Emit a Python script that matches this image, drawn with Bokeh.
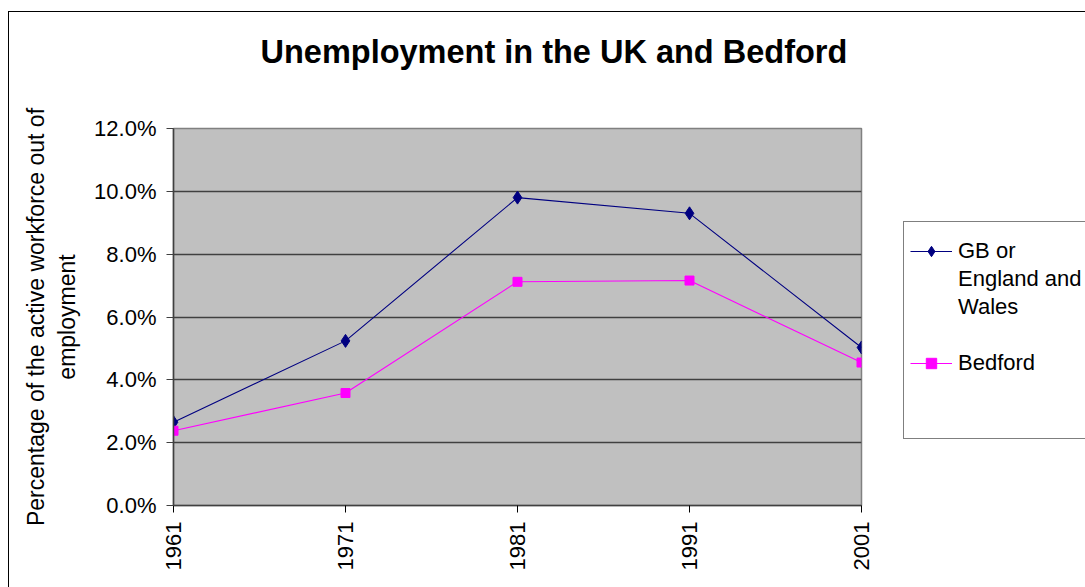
import math
from bokeh.plotting import figure
from bokeh.models import (Range1d, FixedTicker, NumeralTickFormatter, Legend, LegendItem, Title)
from bokeh.embed import file_html
from bokeh.resources import INLINE

years = [1961, 1971, 1981, 1991, 2001]
gb_rate = [0.0265, 0.0524, 0.0980, 0.0930, 0.0503]
bedford_rate = [0.0238, 0.0358, 0.0712, 0.0716, 0.0455]
y_ticks = [0.0, 0.02, 0.04, 0.06, 0.08, 0.10, 0.12]
title_text = "Unemployment in the UK and Bedford"
y_label = "Percentage of the active workforce out of\nemployment"
gb_name_lines = ["GB or", "England and", "Wales"]
bedford_name = "Bedford"

FONT = "Liberation Sans"

p = figure(width=1076, height=575, output_backend="svg", toolbar_location=None,
           title_location=None,
           x_range=Range1d(1961, 2001), y_range=Range1d(0, 0.12),
           frame_width=688, frame_height=377,
           min_border_left=164, min_border_top=116, min_border_right=224, min_border_bottom=82)
p.styles = {"border-left": "1px solid black", "border-top": "1px solid black",
            "position": "relative", "top": "11px", "left": "8px"}

p.background_fill_color = "#C0C0C0"
p.border_fill_color = "white"
p.outline_line_color = "#808080"
p.outline_line_width = 1.5

# spacer between frame and title, then the title itself
p.add_layout(Title(text=" ", text_font_size="1px", standoff=56), "above")
p.add_layout(Title(text=title_text, text_font=FONT, text_font_size="32.5px",
                   text_font_style="bold", text_color="black", align="left",
                   offset=87, standoff=0), "above")

p.xgrid.visible = False
p.ygrid.ticker = FixedTicker(ticks=y_ticks)
p.ygrid.grid_line_color = "#404040"
p.ygrid.grid_line_width = 1.5

p.xaxis.ticker = FixedTicker(ticks=years)
p.xaxis.major_label_orientation = math.pi / 2
p.xaxis.major_label_text_font = FONT
p.xaxis.major_label_text_font_size = "22px"
p.xaxis.major_label_text_color = "black"
p.xaxis.major_label_standoff = 9
p.xaxis.minor_tick_line_color = None
p.xaxis.major_tick_in = 0
p.xaxis.major_tick_out = 7
p.xaxis.major_tick_line_color = "black"
p.xaxis.axis_line_color = "#404040"
p.xaxis.axis_line_width = 1.5

p.yaxis.ticker = FixedTicker(ticks=y_ticks)
p.yaxis.formatter = NumeralTickFormatter(format="0.0%")
p.yaxis.major_label_text_font = FONT
p.yaxis.major_label_text_font_size = "22px"
p.yaxis.major_label_text_color = "black"
p.yaxis.major_label_standoff = 10
p.yaxis.minor_tick_line_color = None
p.yaxis.major_tick_in = 0
p.yaxis.major_tick_out = 7
p.yaxis.major_tick_line_color = "#404040"
p.yaxis.axis_line_color = "#404040"
p.yaxis.axis_line_width = 1.5
p.yaxis.axis_label = y_label
p.yaxis.axis_label_text_font = FONT
p.yaxis.axis_label_text_font_size = "23px"
p.yaxis.axis_label_text_font_style = "normal"
p.yaxis.axis_label_text_color = "black"
p.yaxis.axis_label_standoff = 11

gl = p.line(years, gb_rate, line_color="#000080", line_width=1.1)
gm = p.scatter(years, gb_rate, marker="diamond", size=13,
               fill_color="#000080", line_color="#000080")
bl = p.line(years, bedford_rate, line_color="#FF00FF", line_width=1.1)
bm = p.scatter(years, bedford_rate, marker="square", size=9,
               fill_color="#FF00FF", line_color="#FF00FF")
blank = p.line(x=[], y=[], line_alpha=0)

items = [LegendItem(label=gb_name_lines[0], renderers=[gl, gm]),
         LegendItem(label=gb_name_lines[1], renderers=[blank]),
         LegendItem(label=gb_name_lines[2], renderers=[blank]),
         LegendItem(label=" ", renderers=[blank]),
         LegendItem(label=bedford_name, renderers=[bl, bm]),
         LegendItem(label=" ", renderers=[blank]),
         LegendItem(label=" ", renderers=[blank])]

legend = Legend(items=items, location=(42, 66))
legend.title = " "
legend.title_text_font_size = "1px"
legend.title_standoff = 9
legend.border_line_color = "black"
legend.border_line_width = 1
legend.background_fill_color = "white"
legend.background_fill_alpha = 1
legend.label_text_font = FONT
legend.label_text_font_size = "22px"
legend.label_text_color = "black"
legend.glyph_width = 42
legend.glyph_height = 26
legend.label_height = 20
legend.label_standoff = 6
legend.padding = 6
legend.spacing = 2
legend.margin = 0
legend.label_width = 121
p.add_layout(legend, "right")

open("out.html", "w").write(file_html(p, INLINE))
